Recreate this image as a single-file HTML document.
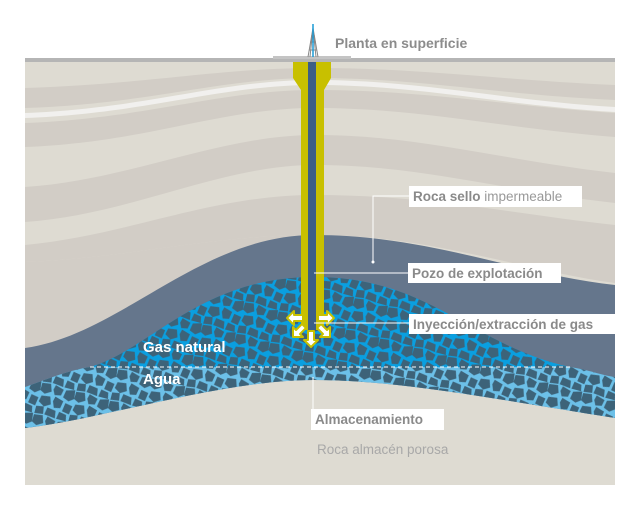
<!DOCTYPE html>
<html><head><meta charset="utf-8"><style>
html,body{margin:0;padding:0;background:#fff}
svg{display:block}
text{font-family:"Liberation Sans",sans-serif}
</style></head><body>
<svg width="640" height="517" viewBox="0 0 640 517" xmlns="http://www.w3.org/2000/svg">
<defs>
<pattern id="peb" width="28" height="26" patternUnits="userSpaceOnUse" patternTransform="scale(1.25) rotate(15)">
<polygon points="0,1 7,0 9,6 4,9 0,7" fill="#3d6379"/>
<polygon points="11,0 18,2 17,7 12,8 10,4" fill="#3d6379"/>
<polygon points="20,2 27,0 28,7 24,10 19,8" fill="#3d6379"/>
<polygon points="2,11 9,10 11,16 6,19 1,16" fill="#3d6379"/>
<polygon points="13,9 20,11 19,17 14,18 12,13" fill="#3d6379"/>
<polygon points="22,12 28,13 27,20 21,19" fill="#3d6379"/>
<polygon points="0,20 6,19 7,25 0,26" fill="#3d6379"/>
<polygon points="9,19 16,20 17,26 8,25" fill="#3d6379"/>
<polygon points="19,20 25,21 26,26 18,26" fill="#3d6379"/>
</pattern>
<clipPath id="pc"><rect x="25" y="59" width="590" height="426"/></clipPath>
</defs>
<rect x="25" y="59" width="590" height="426" fill="#dedbd2"/>
<g clip-path="url(#pc)">
<path d="M25,88 C150,84 220,68 315,68 C420,68 500,80 615,85 L615,100 C500,95 420,78 315,78 C220,78 150,104 25,108 Z" fill="#d2cdc6"/>
<path d="M25,113 C150,108 220,80 315,80 C420,80 500,100 615,107 L615,112 C500,105 420,85 315,85 C220,85 150,113 25,118 Z" fill="#f1f0ee"/>
<path d="M25,123 C150,118 220,90 315,90 C420,90 500,105 615,113 L615,137 C500,128 420,108 315,108 C220,108 150,142 25,147 Z" fill="#d2cdc6"/>
<path d="M25,187 C130,180 220,135 315,135 C420,135 500,160 615,173 L615,203 C500,190 420,165 315,165 C220,165 130,215 25,222 Z" fill="#d2cdc6"/>
<path d="M25,245 C130,235 210,195 315,195 C430,195 520,215 615,225 L615,283 C520,270 430,235 315,235 C210,235 130,258 25,262 Z" fill="#d2cdc6"/>
<path d="M25,262 C130,258 210,235 315,235 L200,300 C150,320 100,345 25,348 Z" fill="#d2cdc6"/>
<path d="M25,348 C120,335 200,235 314,235 C430,235 520,275 615,285 L615,418 C500,400 400,380 314,380 C220,380 100,420 25,428 Z" fill="#65768c"/>
<path d="M90,367 C150,350 200,277 314,277 C430,277 470,345 570,367 Z" fill="#0a9fe0"/>
<path d="M90,367 C150,350 200,277 314,277 C430,277 470,345 570,367 Z" fill="url(#peb)"/>
<path d="M25,387 C50,378 70,370 90,367 L570,367 C590,370 600,375 615,377 L615,418 C500,400 400,380 314,380 C220,380 100,420 25,428 Z" fill="#6cc0e8"/>
<path d="M25,387 C50,378 70,370 90,367 L570,367 C590,370 600,375 615,377 L615,418 C500,400 400,380 314,380 C220,380 100,420 25,428 Z" fill="url(#peb)"/>
</g>
<line x1="90" y1="367" x2="570" y2="367" stroke="#fff" stroke-width="1" stroke-dasharray="4,3"/>
<rect x="25" y="58" width="590" height="4" fill="#b5b5b5"/>
<rect x="273" y="56" width="78" height="3" fill="#c4c4c4"/>
<g stroke="#888" stroke-width="1" fill="none">
<path d="M310,57 L313,28 L316,57 M308,57 L313,28 L318,57 M309,50 L317,50 M310,42 L316,42 M311,36 L315,36"/>
</g>
<line x1="313" y1="24" x2="313" y2="57" stroke="#1a9ad6" stroke-width="1.5"/>
<path d="M293,62 L331,62 L331,78 L324,90 L324,330 L301,330 L301,90 L293,78 Z" fill="#c8c000"/>
<rect x="308" y="62" width="8" height="268" fill="#3c5e86"/>
<g fill="#fff" stroke="#c8c000" stroke-width="2" stroke-linejoin="round">
<path d="M287,318 L294,311 L294,315 L303,315 L303,321 L294,321 L294,325 Z"/>
<path d="M334,318 L327,311 L327,315 L318,315 L318,321 L327,321 L327,325 Z"/>
<path d="M311,347 L304,340 L308,340 L308,331 L314,331 L314,340 L318,340 Z"/>
<path d="M293,337 L293,327 L296,330 L302,324 L306,328 L300,334 L303,337 Z"/>
<path d="M330,337 L330,327 L327,330 L321,324 L317,328 L323,334 L320,337 Z"/>
</g>
<g stroke="#fff" stroke-width="1" fill="none">
<path d="M409,196 L373,196 L373,262"/>
<line x1="314" y1="273" x2="408" y2="273"/>
<line x1="314" y1="323" x2="409" y2="323"/>
<line x1="313" y1="377" x2="313" y2="409"/>
</g>
<circle cx="373" cy="262" r="1.5" fill="#fff"/>
<text x="335" y="48" font-size="14" font-weight="bold" fill="#8c8c8c">Planta en superficie</text>
<rect x="409" y="186" width="173" height="21" fill="#fff"/>
<text x="413" y="201" font-size="13.5" fill="#999"><tspan font-weight="bold" fill="#8a8a8a">Roca sello</tspan> impermeable</text>
<rect x="408" y="263" width="153" height="20" fill="#fff"/>
<text x="412" y="278" font-size="13.5" font-weight="bold" fill="#8a8a8a">Pozo de explotación</text>
<rect x="409" y="314" width="207" height="20" fill="#fff"/>
<text x="413" y="329" font-size="13.5" font-weight="bold" fill="#8a8a8a">Inyección/extracción de gas</text>
<rect x="311" y="409" width="133" height="21" fill="#fff"/>
<text x="315" y="424" font-size="13.5" font-weight="bold" fill="#8a8a8a">Almacenamiento</text>
<text x="317" y="454" font-size="13.5" fill="#a8a8a8">Roca almacén porosa</text>
<text x="143" y="352" font-size="15" font-weight="bold" fill="#fff">Gas natural</text>
<text x="143" y="384" font-size="15" font-weight="bold" fill="#fff">Agua</text>
</svg>
</body></html>
